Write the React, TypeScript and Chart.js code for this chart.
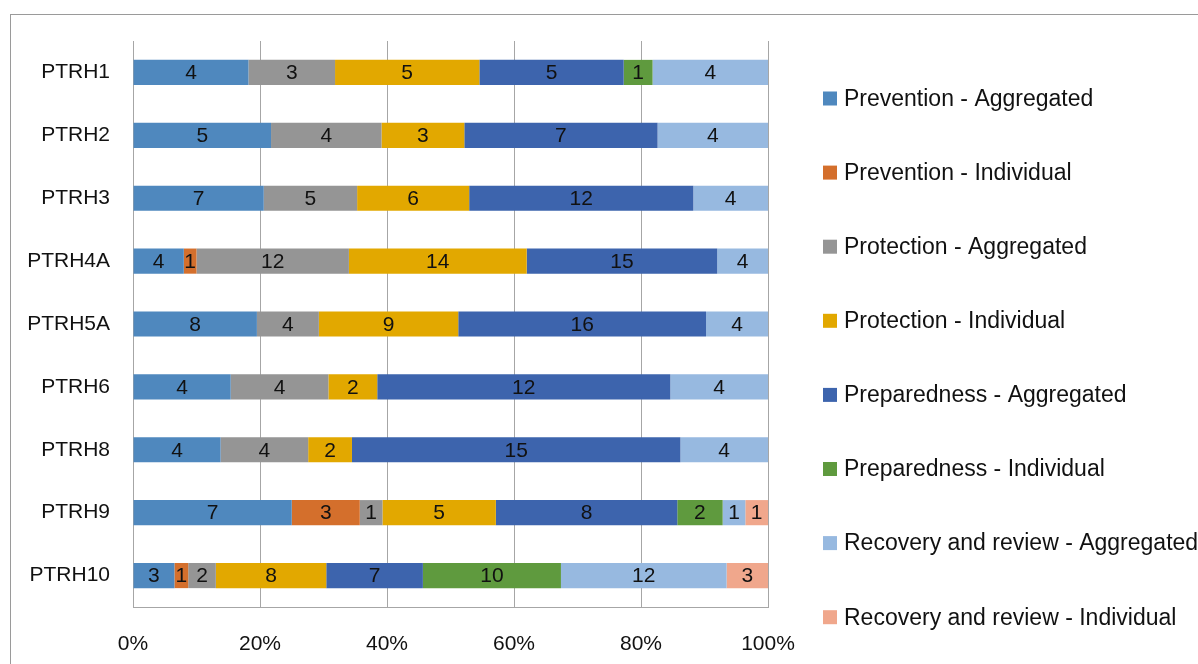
import React, { useEffect, useRef } from "react";
import { Chart, registerables } from "chart.js";

Chart.register(...registerables);

const categories = ["PTRH1", "PTRH2", "PTRH3", "PTRH4A", "PTRH5A", "PTRH6", "PTRH8", "PTRH9", "PTRH10"];

const preventionAggregated = [4, 5, 7, 4, 8, 4, 4, 7, 3];
const preventionIndividual = [0, 0, 0, 1, 0, 0, 0, 3, 1];
const protectionAggregated = [3, 4, 5, 12, 4, 4, 4, 1, 2];
const protectionIndividual = [5, 3, 6, 14, 9, 2, 2, 5, 8];
const preparednessAggregated = [5, 7, 12, 15, 16, 12, 15, 8, 7];
const preparednessIndividual = [1, 0, 0, 0, 0, 0, 0, 2, 10];
const recoveryAggregated = [4, 4, 4, 4, 4, 4, 4, 1, 12];
const recoveryIndividual = [0, 0, 0, 0, 0, 0, 0, 1, 3];

const seriesNames = [
  "Prevention - Aggregated",
  "Prevention - Individual",
  "Protection - Aggregated",
  "Protection - Individual",
  "Preparedness - Aggregated",
  "Preparedness - Individual",
  "Recovery and review - Aggregated",
  "Recovery and review - Individual",
];
const seriesValues = [
  preventionAggregated,
  preventionIndividual,
  protectionAggregated,
  protectionIndividual,
  preparednessAggregated,
  preparednessIndividual,
  recoveryAggregated,
  recoveryIndividual,
];
const seriesColors = ["#4F88BE", "#D46F2C", "#959595", "#E2A800", "#3D64AD", "#5F9A3E", "#97B9E0", "#F0A78C"];

const xTicks = [0, 20, 40, 60, 80, 100];

const FONT = "'Liberation Sans', Arial, sans-serif";

const totals = categories.map((_, i) => seriesValues.reduce((s, arr) => s + arr[i], 0));

const valueLabels = {
  id: "valueLabels",
  afterDatasetsDraw(chart: any) {
    const ctx = chart.ctx;
    ctx.save();
    ctx.font = `21px ${FONT}`;
    ctx.fillStyle = "#111";
    ctx.textAlign = "center";
    ctx.textBaseline = "middle";
    chart.data.datasets.forEach((ds: any, di: number) => {
      const meta = chart.getDatasetMeta(di);
      meta.data.forEach((bar: any, i: number) => {
        const raw = ds.raw[i];
        if (!raw) return;
        const cx = (bar.x + bar.base) / 2;
        ctx.fillText(String(raw), cx, bar.y + 1);
      });
    });
    ctx.restore();
  },
};

const sideLegend = {
  id: "sideLegend",
  afterDraw(chart: any) {
    const ctx = chart.ctx;
    const area = chart.chartArea;
    ctx.save();
    ctx.font = `23px ${FONT}`;
    ctx.textBaseline = "middle";
    ctx.textAlign = "left";
    const x0 = area.right + 55;
    const y0 = area.top + 57.5;
    const step = 74.1;
    chart.data.datasets.forEach((ds: any, i: number) => {
      const y = y0 + i * step;
      ctx.fillStyle = ds.backgroundColor;
      ctx.fillRect(x0, y - 7, 14, 14);
      ctx.fillStyle = "#111";
      ctx.fillText(ds.label, x0 + 21, y + 1);
    });
    ctx.restore();
  },
};

export default function App() {
  const canvasRef = useRef<HTMLCanvasElement | null>(null);

  useEffect(() => {
    const canvas = canvasRef.current;
    if (!canvas) return;
    const datasets = seriesNames.map((name, si) => ({
      label: name,
      data: seriesValues[si].map((v, i) => (v / totals[i]) * 100),
      raw: seriesValues[si],
      backgroundColor: seriesColors[si],
      borderWidth: 0,
      barPercentage: 0.4,
      categoryPercentage: 1,
    }));
    const chart = new Chart(canvas, {
      type: "bar",
      data: { labels: categories, datasets: datasets as any },
      plugins: [valueLabels, sideLegend],
      options: {
        indexAxis: "y",
        animation: false,
        responsive: false,
        maintainAspectRatio: false,
        devicePixelRatio: 1,
        layout: { padding: { top: 41, right: 430, bottom: 0, left: 0 } },
        plugins: {
          legend: { display: false },
          tooltip: { enabled: false },
        },
        scales: {
          x: {
            stacked: true,
            min: 0,
            max: 100,
            afterBuildTicks: (scale: any) => {
              scale.ticks = xTicks.map((v) => ({ value: v }));
            },
            afterFit: (scale: any) => {
              scale.height = 57;
            },
            ticks: {
              callback: (v: any) => `${v}%`,
              font: { family: FONT, size: 21 },
              color: "#111",
              padding: 25,
              maxRotation: 0,
            },
            grid: { color: "#A6A6A6", lineWidth: 1, drawTicks: false },
            border: { color: "#A6A6A6", width: 1 },
          },
          y: {
            stacked: true,
            afterFit: (scale: any) => {
              scale.width = 133;
            },
            ticks: {
              font: { family: FONT, size: 21 },
              color: "#111",
              padding: 23,
            },
            grid: { display: false, drawTicks: false },
            border: { color: "#A6A6A6", width: 1 },
          },
        },
      },
    });
    return () => chart.destroy();
  }, []);

  return (
    <div style={{ position: "fixed", left: 0, top: 0, width: 1198, height: 664, background: "#fff", overflow: "hidden" }}>
      <div
        style={{
          position: "absolute",
          left: 10,
          top: 14,
          width: 1400,
          height: 900,
          borderTop: "1px solid #9A9A9A",
          borderLeft: "1px solid #9A9A9A",
        }}
      />
      <canvas ref={canvasRef} width={1198} height={664} style={{ position: "absolute", left: 0, top: 0, width: 1198, height: 664 }} />
    </div>
  );
}
